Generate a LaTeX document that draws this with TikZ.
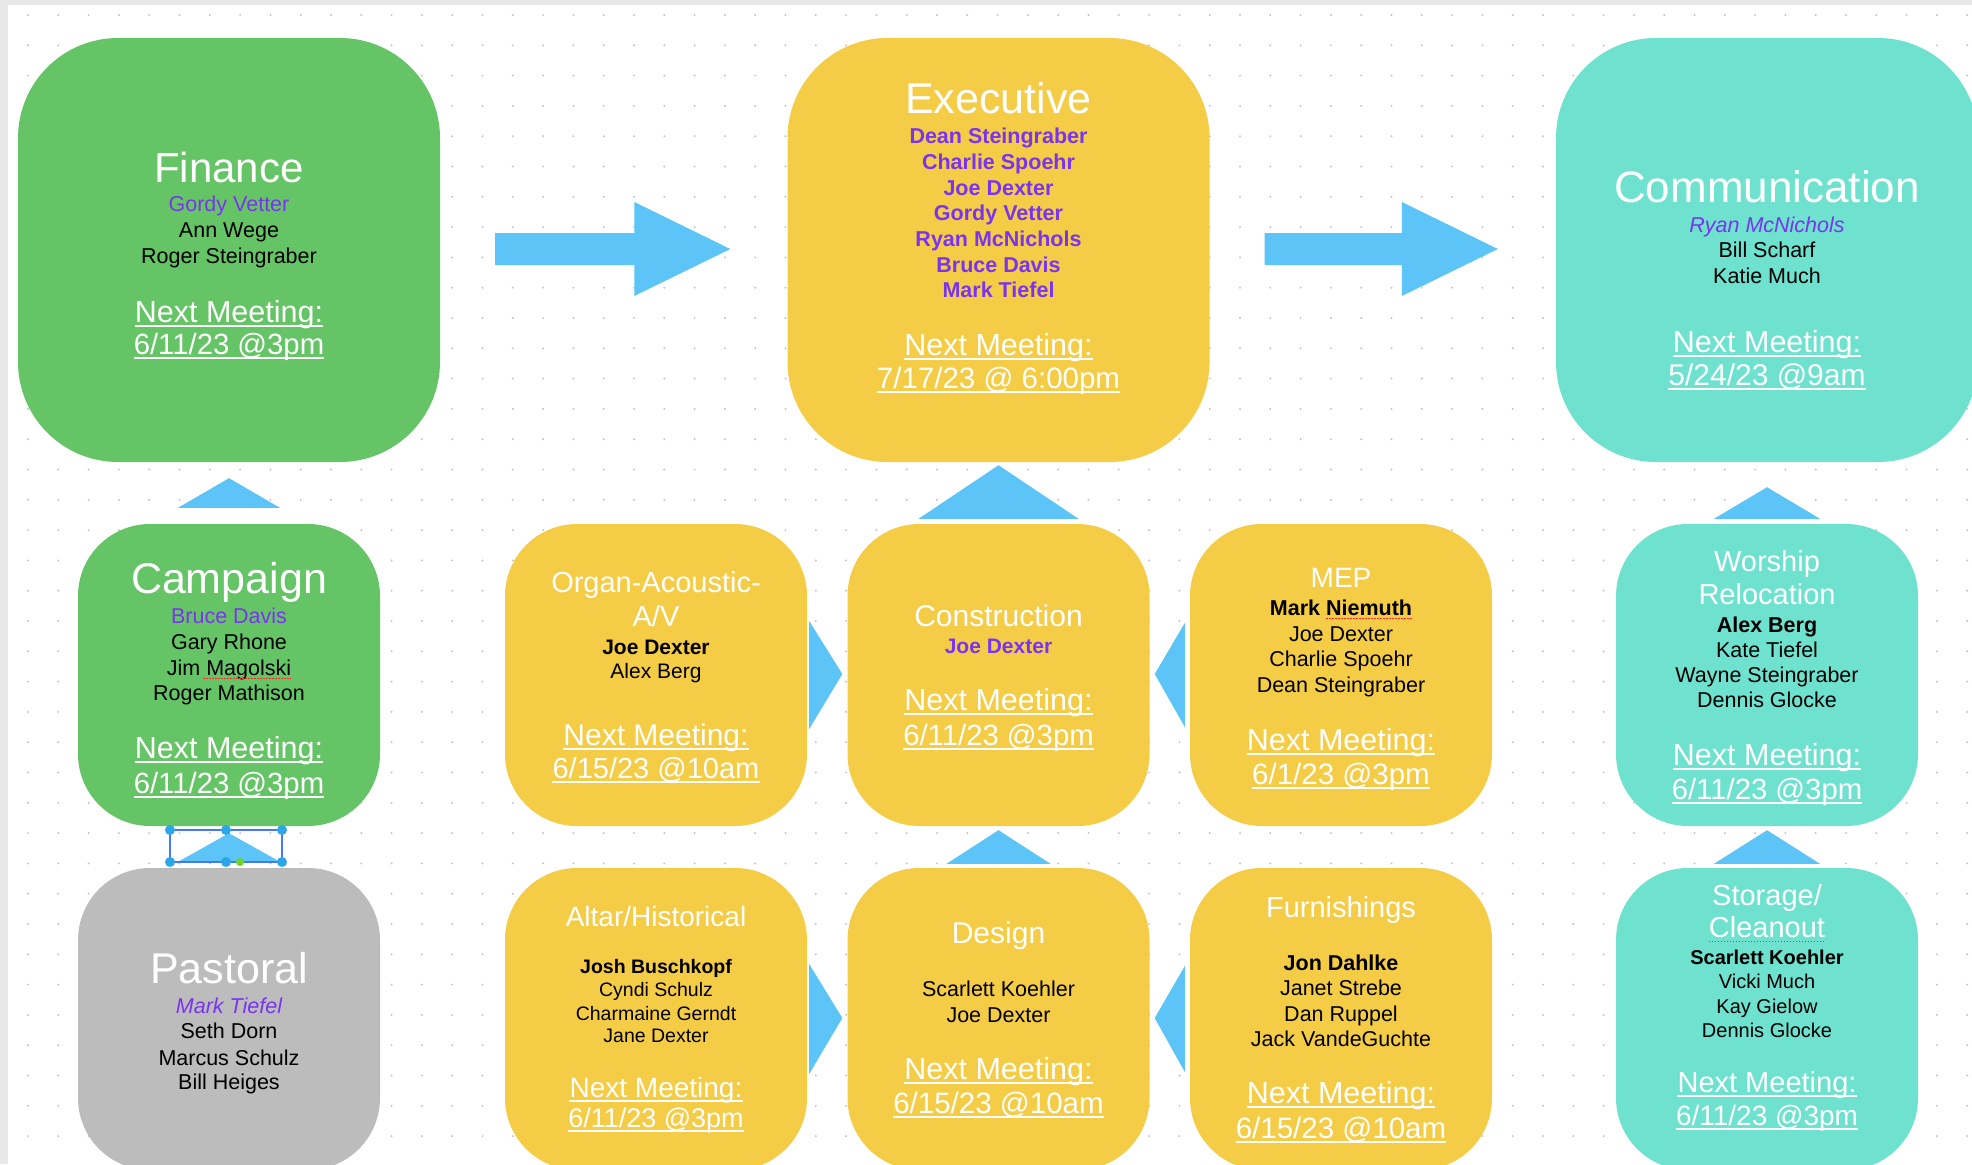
\documentclass[tikz,border=0pt]{standalone}
\usepackage{fontspec}
\setmainfont{Liberation Sans}
\usetikzlibrary{calc}
\definecolor{gr}{RGB}{101,196,102}
\definecolor{yl}{RGB}{244,204,70}
\definecolor{tl}{RGB}{110,226,206}
\definecolor{gy}{RGB}{188,188,188}
\definecolor{bl}{RGB}{92,196,246}
\definecolor{pu}{RGB}{122,52,240}
\definecolor{dotc}{RGB}{196,196,196}
\definecolor{edgec}{RGB}{232,232,232}
\definecolor{hdl}{RGB}{44,166,234}
\definecolor{selc}{RGB}{70,120,240}
\definecolor{grn}{RGB}{110,210,40}
\newcommand\fsz[1]{\fontsize{#1}{#1}\selectfont}
\newcommand\tx[5]{\node[#4] (#1) at (#2,#3) {#5};}
\newcommand\mt[5]{\node[mtx,font=\fsz{#4}] (#1) at (#2,#3) {#5};
  \draw[uline] ([yshift=-3.5pt]#1.base west) -- ([yshift=-3.5pt]#1.base east);}
\newcommand\uptri[5]{\fill[bl] ($(#1.north)+(-#5,-#3)$) -- ($(#1.north)+(#5,-#3)$) -- ($(#2.south)+(0,#4)$) -- cycle;}
\begin{document}
\begin{tikzpicture}[x=1pt,y=-1pt,
  bx/.style={rectangle, rounded corners=72pt, minimum width=302pt, minimum height=302pt, inner sep=0pt},
  bigbx/.style={rectangle, rounded corners=100pt, minimum width=422pt, minimum height=424pt, inner sep=0pt},
  tbase/.style={inner sep=0pt, anchor=base},
  ttl/.style={tbase, text=white, font=\fsz{#1}},
  nm/.style={tbase, text=black, font=\fsz{#1}},
  nmb/.style={tbase, text=black, font=\bfseries\fsz{#1}},
  pur/.style={tbase, text=pu, font=\fsz{#1}},
  purb/.style={tbase, text=pu, font=\bfseries\fsz{#1}},
  puri/.style={tbase, text=pu, font=\itshape\fsz{#1}},
  mtx/.style={tbase, text=white},
  uline/.style={white, line width=2pt},
  spell/.style={red!85!white, line width=0.9pt, dash pattern=on 1.5pt off 1.5pt},
  hd/.style={fill=hdl}
]
\useasboundingbox (0,0) rectangle (1972,1164);
\clip (0,0) rectangle (1972,1164);
\fill[white] (0,0) rectangle (1972,1164);
\fill[edgec] (0,0) rectangle (1972,5);
\fill[edgec] (0,0) rectangle (8,1164);
\foreach \i in {0,...,64} {
  \foreach \j in {0,...,38} {
    \fill[dotc] (28+\i*30.3, 15+\j*30.3) circle (1.1pt);
  }
}
% boxes
\node[bigbx, fill=gr] (fin) at (229,250) {};
\node[bigbx, fill=yl] (exec) at (998.5,250) {};
\node[bigbx, fill=tl] (comm) at (1767,250) {};
\node[bx, fill=gr] (camp) at (229,675) {};
\node[bx, fill=gy] (past) at (229,1019) {};
\node[bx, fill=yl] (organ) at (656,675) {};
\node[bx, fill=yl] (constr) at (998.5,675) {};
\node[bx, fill=yl] (mep) at (1341,675) {};
\node[bx, fill=tl] (worship) at (1767,675) {};
\node[bx, fill=yl] (altar) at (656,1019) {};
\node[bx, fill=yl] (design) at (998.5,1019) {};
\node[bx, fill=yl] (furn) at (1341,1019) {};
\node[bx, fill=tl] (storage) at (1767,1019) {};
% right arrows
\coordinate (a1s) at ($(fin.east)+(55,-1)$);
\coordinate (a1t) at ($(exec.west)+(-57,-1)$);
\fill[bl] ($(a1s)+(0,-16)$) -- ($(a1t)+(-96,-16)$) -- ($(a1t)+(-96,-47)$) -- (a1t) -- ($(a1t)+(-96,47)$) -- ($(a1t)+(-96,16)$) -- ($(a1s)+(0,16)$) -- cycle;
\coordinate (a2s) at ($(exec.east)+(55,-1)$);
\coordinate (a2t) at ($(comm.west)+(-58,-1)$);
\fill[bl] ($(a2s)+(0,-16)$) -- ($(a2t)+(-96,-16)$) -- ($(a2t)+(-96,-47)$) -- (a2t) -- ($(a2t)+(-96,47)$) -- ($(a2t)+(-96,16)$) -- ($(a2s)+(0,16)$) -- cycle;
% up triangles
\uptri{camp}{fin}{16}{16}{51}
\uptri{constr}{exec}{5}{3}{80}
\uptri{worship}{comm}{5}{25}{53}
\uptri{past}{camp}{6}{7}{51}
\uptri{design}{constr}{4}{4}{52}
\uptri{storage}{worship}{4}{4}{53}
% side triangles
\fill[bl] ($(organ.east)+(2,-54)$) -- ($(organ.east)+(2,54)$) -- ($(constr.west)+(-5,-1)$) -- cycle;
\fill[bl] ($(mep.west)+(-5,-52)$) -- ($(mep.west)+(-5,52)$) -- ($(constr.east)+(5,-1)$) -- cycle;
\fill[bl] ($(altar.east)+(2,-55)$) -- ($(altar.east)+(2,55)$) -- ($(design.west)+(-5,-1)$) -- cycle;
\fill[bl] ($(furn.west)+(-5,-53)$) -- ($(furn.west)+(-5,53)$) -- ($(design.east)+(5,-1)$) -- cycle;
% selection handles on pastoral triangle
\draw[selc, line width=1.3pt] (170,830) rectangle (282,862);
\foreach \hx in {170,226,282} {
  \fill[hdl] (\hx,830) circle (5pt);
  \fill[hdl] (\hx,862) circle (5pt);
}
\fill[grn] (240,862) circle (4pt);
% Finance
\tx{finT}{229}{182}{ttl=42}{Finance}
\tx{fin1}{229}{211}{pur=21.5}{Gordy Vetter}
\tx{fin2}{229}{237}{nm=21.5}{Ann Wege}
\tx{fin3}{229}{263}{nm=21.5}{Roger Steingraber}
\mt{finM}{229}{322}{30.5}{Next Meeting:\hspace{5pt}}
\mt{finD}{229}{354}{29.3}{6/11/23 @3pm}
% Executive
\tx{exT}{998.5}{113}{ttl=43}{Executive}
\tx{ex1}{998.5}{143}{purb=21.5}{Dean Steingraber}
\tx{ex2}{998.5}{169}{purb=21.5}{Charlie Spoehr}
\tx{ex3}{998.5}{195}{purb=21.5}{Joe Dexter}
\tx{ex4}{998.5}{220}{purb=21.5}{Gordy Vetter}
\tx{ex5}{998.5}{246}{purb=21.5}{Ryan McNichols}
\tx{ex6}{998.5}{272}{purb=21.5}{Bruce Davis}
\tx{ex7}{998.5}{297}{purb=21.5}{Mark Tiefel}
\mt{exM}{998.5}{355}{30.5}{Next Meeting:\hspace{5pt}}
\mt{exD}{998.5}{388}{29.5}{7/17/23 @ 6:00pm}
% Communication
\tx{coT}{1767}{202}{ttl=44}{Communication}
\tx{co1}{1767}{232}{puri=21.5}{Ryan McNichols}
\tx{co2}{1767}{257}{nm=21.5}{Bill Scharf}
\tx{co3}{1767}{283}{nm=21.5}{Katie Much}
\mt{coM}{1767}{352}{30.5}{Next Meeting:\hspace{5pt}}
\mt{coD}{1767}{385}{30}{5/24/23 @9am}
% Campaign
\tx{caT}{229}{593}{ttl=43}{Campaign}
\tx{ca1}{229}{623}{pur=21.5}{Bruce Davis}
\tx{ca2}{229}{649}{nm=21.5}{Gary Rhone}
\tx{ca3}{229}{675}{nm=21.5}{Jim Magolski}
\tx{ca4}{229}{700}{nm=21.5}{Roger Mathison}
\mt{caM}{229}{758}{30.5}{Next Meeting:\hspace{5pt}}
\mt{caD}{229}{793}{29.3}{6/11/23 @3pm}
\draw[spell] ($(ca3.base east)+(-88,3)$) -- ($(ca3.base east)+(0,3)$);
% Pastoral
\tx{paT}{229}{983}{ttl=43}{Pastoral}
\tx{pa1}{229}{1013}{puri=21.5}{Mark Tiefel}
\tx{pa2}{229}{1038}{nm=21.5}{Seth Dorn}
\tx{pa3}{229}{1065}{nm=21.5}{Marcus Schulz}
\tx{pa4}{229}{1089}{nm=21.5}{Bill Heiges}
% Organ
\tx{orT1}{656}{592}{ttl=29}{Organ-Acoustic-}
\tx{orT2}{656}{626}{ttl=29}{A/V}
\tx{or1}{656}{654}{nmb=21}{Joe Dexter}
\tx{or2}{656}{678}{nm=21}{Alex Berg}
\mt{orM}{656}{745}{30}{Next Meeting:\hspace{5pt}}
\mt{orD}{656}{778}{29}{6/15/23 @10am}
% Construction
\tx{cnT}{998.5}{626}{ttl=30}{Construction}
\tx{cn1}{998.5}{653}{purb=21}{Joe Dexter}
\mt{cnM}{998.5}{710}{30.5}{Next Meeting:\hspace{5pt}}
\mt{cnD}{998.5}{745}{29.3}{6/11/23 @3pm}
% MEP
\tx{meT}{1341}{587}{ttl=28}{MEP}
\tx{me1}{1341}{615}{nmb=21.5}{Mark Niemuth}
\tx{me2}{1341}{641}{nm=21.5}{Joe Dexter}
\tx{me3}{1341}{666}{nm=21.5}{Charlie Spoehr}
\tx{me4}{1341}{692}{nm=21.5}{Dean Steingraber}
\mt{meM}{1341}{750}{30.5}{Next Meeting:\hspace{5pt}}
\mt{meD}{1341}{784}{29.5}{6/1/23 @3pm}
\draw[spell] ($(me1.base east)+(-86,3)$) -- ($(me1.base east)+(0,3)$);
% Worship
\tx{woT1}{1767}{571}{ttl=29}{Worship}
\tx{woT2}{1767}{604}{ttl=29}{Relocation}
\tx{wo1}{1767}{632}{nmb=21.5}{Alex Berg}
\tx{wo2}{1767}{657}{nm=21.5}{Kate Tiefel}
\tx{wo3}{1767}{682}{nm=21.5}{Wayne Steingraber}
\tx{wo4}{1767}{707}{nm=21.5}{Dennis Glocke}
\mt{woM}{1767}{765}{30.5}{Next Meeting:\hspace{5pt}}
\mt{woD}{1767}{799}{29.3}{6/11/23 @3pm}
% Altar
\tx{alT}{656}{926}{ttl=28}{Altar/Historical}
\tx{al1}{656}{973}{nmb=19.5}{Josh Buschkopf}
\tx{al2}{656}{996}{nm=19.5}{Cyndi Schulz}
\tx{al3}{656}{1020}{nm=19.5}{Charmaine Gerndt}
\tx{al4}{656}{1042}{nm=19.5}{Jane Dexter}
\mt{alM}{656}{1097}{28}{Next Meeting:\hspace{5pt}}
\mt{alD}{656}{1127}{27}{6/11/23 @3pm}
% Design
\tx{deT}{998.5}{943}{ttl=30}{Design}
\tx{de1}{998.5}{996}{nm=21.5}{Scarlett Koehler}
\tx{de2}{998.5}{1022}{nm=21.5}{Joe Dexter}
\mt{deM}{998.5}{1079}{30.5}{Next Meeting:\hspace{5pt}}
\mt{deD}{998.5}{1113}{29.5}{6/15/23 @10am}
% Furnishings
\tx{fuT}{1341}{917}{ttl=29}{Furnishings}
\tx{fu1}{1341}{970}{nmb=21.5}{Jon Dahlke}
\tx{fu2}{1341}{995}{nm=21.5}{Janet Strebe}
\tx{fu3}{1341}{1021}{nm=21.5}{Dan Ruppel}
\tx{fu4}{1341}{1046}{nm=21.5}{Jack VandeGuchte}
\mt{fuM}{1341}{1103}{30.5}{Next Meeting:\hspace{5pt}}
\mt{fuD}{1341}{1138}{29.5}{6/15/23 @10am}
% Storage
\tx{stT1}{1767}{905}{ttl=29}{Storage/}
\tx{stT2}{1767}{937}{ttl=29}{Cleanout}
\tx{st1}{1767}{964}{nmb=20}{Scarlett Koehler}
\tx{st2}{1767}{988}{nm=20}{Vicki Much}
\tx{st3}{1767}{1013}{nm=20}{Kay Gielow}
\tx{st4}{1767}{1037}{nm=20}{Dennis Glocke}
\mt{stM}{1767}{1092}{29}{Next Meeting:\hspace{5pt}}
\mt{stD}{1767}{1125}{28}{6/11/23 @3pm}
\draw[spell] ($(stT2.base west)+(0,4)$) -- ($(stT2.base east)+(0,4)$);
\end{tikzpicture}
\end{document}
